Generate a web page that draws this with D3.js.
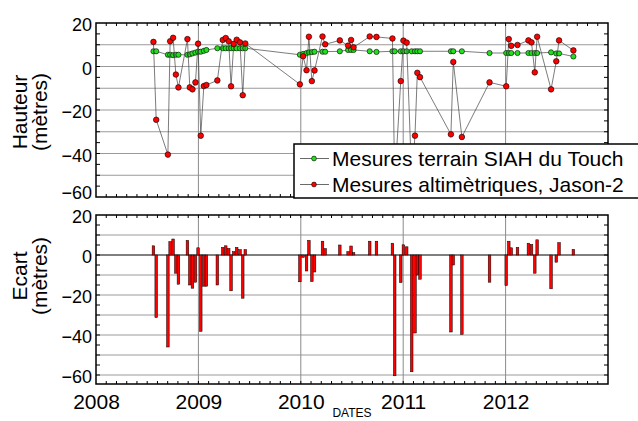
<!DOCTYPE html>
<html><head><meta charset="utf-8">
<script src="https://cdn.jsdelivr.net/npm/d3@7"></script>
<style>
html,body{margin:0;padding:0;background:#fff;}
svg{display:block;font-family:"Liberation Sans",Arial,sans-serif;}
</style></head>
<body><svg id="c" width="638" height="421"></svg>
<script>
// ---- data ----
const dates = [2008.561, 2008.588, 2008.702, 2008.724, 2008.753, 2008.780, 2008.805, 2008.893, 2008.916, 2008.942,
  2008.971, 2008.997, 2009.023, 2009.053, 2009.078, 2009.185, 2009.238, 2009.267, 2009.296, 2009.319,
  2009.345, 2009.374, 2009.406, 2009.433, 2009.458, 2009.991, 2010.023, 2010.056, 2010.079, 2010.108,
  2010.134, 2010.212, 2010.238, 2010.381, 2010.462, 2010.491, 2010.515, 2010.673, 2010.739, 2010.895,
  2010.917, 2010.976, 2011.002, 2011.034, 2011.083, 2011.115, 2011.138, 2011.164, 2011.466, 2011.489,
  2011.573, 2011.843, 2012.006, 2012.031, 2012.055, 2012.116, 2012.223, 2012.253, 2012.285, 2012.308,
  2012.444, 2012.495, 2012.522, 2012.662];
const terrain = [7.0, 7.0, 5.4, 5.4, 5.2, 5.4, 5.4, 5.4, 5.6, 6.0,
  6.4, 6.8, 6.8, 7.2, 7.6, 8.4, 8.4, 8.4, 8.4, 8.4,
  8.4, 8.4, 8.4, 8.4, 8.4, 5.4, 5.8, 6.2, 6.5, 6.6,
  6.8, 6.8, 6.8, 7.0, 7.6, 7.6, 7.6, 7.0, 6.7, 7.0,
  7.0, 7.0, 7.0, 7.0, 7.0, 7.0, 7.0, 7.0, 7.0, 7.0,
  7.0, 6.2, 6.2, 6.2, 6.2, 6.2, 6.2, 6.2, 6.2, 6.2,
  6.5, 6.0, 6.0, 4.6];
const altim = [11.3, -24.5, -40.5, 11.6, 13.2, -3.7, -9.6, 12.6, -9.6, -10.5,
  -7.3, 10.5, -31.8, -9.0, -8.5, -6.4, 12.2, 13.1, 11.6, -9.1,
  10.4, 12.3, 11.1, -13.2, 10.6, -8.2, 4.7, -1.7, 13.7, -6.7,
  -1.8, 13.8, 10.2, 12.0, 9.6, 12.2, 8.8, 13.8, 13.6, 12.9,
  -53.5, -6.7, 11.9, 11.0, -51.5, -31.8, -2.9, -4.9, -31.2, 2.1,
  -32.4, -7.3, -9.1, 12.6, 9.5, 9.9, 12.0, 11.1, -2.7, 13.7,
  -10.5, 2.4, 12.0, 7.4];
const ecart = [4.6, -31.3, -46, 6.7, 8.0, -9.1, -14.6, 7.3, -15, -16.6,
  -13.6, 3.6, -38.2, -15.6, -15.6, -15, 3.8, 4.6, 3.3, -17.9,
  1.7, 3.8, 2.7, -21.6, 2.7, -13.4, -1.2, -8, 7.3, -13.3,
  -8.5, 6.9, 3.2, 5, 1.7, 4.5, 1.2, 6.9, 6.9, 5.9,
  -60.4, -13.8, 5.1, 4.1, -58.4, -39, -10, -12.1, -38.5, -5,
  -39.7, -13.6, -15.3, 6.9, 3.6, 3.8, 5.9, 5.3, -9.1, 7.6,
  -16.9, -3.6, 6.2, 2.8];
const yearTicks = [2008, 2009, 2010, 2011, 2012];
const yTickLabels = [20, 0, -20, -40, -60];
const seriesNames = ["Mesures terrain SIAH du Touch", "Mesures altimètriques, Jason-2"];
const yTitles = [["Hauteur", "(mètres)"], ["Ecart", "(mètres)"]];
const xTitle = "DATES";

// ---- layout ----
const svg = d3.select("#c");
const L = 96, R = 608;
const x = d3.scaleLinear().domain([2008, 2013]).range([L, R]);
const yTop = d3.scaleLinear().domain([-60, 20]).range([197, 23]);
const yBot = d3.scaleLinear().domain([-64.5, 20]).range([384, 215]);
const GREEN = "#22e01e", RED = "#ff0000";

function panelFrame(y, gridVals) {
  const [y0, y1] = y.range(); // bottom, top
  const g = svg.append("g");
  g.selectAll(".hg").data(gridVals).join("line")
    .attr("x1", L).attr("x2", R).attr("y1", d => y(d)).attr("y2", d => y(d))
    .attr("stroke", "#9a9a9a").attr("stroke-width", 1);
  g.selectAll(".vg").data(yearTicks.slice(1)).join("line")
    .attr("x1", d => x(d)).attr("x2", d => x(d)).attr("y1", y1).attr("y2", y0)
    .attr("stroke", "#8a8a8a").attr("stroke-width", 1);
  return g;
}
function panelTicks(y, minorVals) {
  const [y0, y1] = y.range();
  const g = svg.append("g").attr("stroke", "#000").attr("stroke-width", 1);
  const xm = d3.range(0, 50).map(i => 2008 + i * 0.1).filter(d => d > 2008.05);
  g.selectAll(".tt").data(xm).join("line")
    .attr("x1", d => x(d)).attr("x2", d => x(d)).attr("y1", y1).attr("y2", y1 + 3);
  g.selectAll(".tb").data(xm).join("line")
    .attr("x1", d => x(d)).attr("x2", d => x(d)).attr("y1", y0).attr("y2", y0 - 3);
  g.selectAll(".tl").data(minorVals).join("line")
    .attr("x1", L).attr("x2", L + 4).attr("y1", d => y(d)).attr("y2", d => y(d));
  g.selectAll(".tr").data(minorVals).join("line")
    .attr("x1", R).attr("x2", R - 4).attr("y1", d => y(d)).attr("y2", d => y(d));
  svg.append("rect").attr("x", L).attr("y", y1).attr("width", R - L).attr("height", y0 - y1)
    .attr("fill", "none").attr("stroke", "#000").attr("stroke-width", 1.5);
}
function yLabels(y, adjust) {
  const ax = svg.append("g").attr("transform", `translate(${L},0)`)
    .call(d3.axisLeft(y).tickValues(yTickLabels).tickSize(0).tickPadding(4));
  ax.select(".domain").remove();
  ax.selectAll("text").attr("font-size", 18).attr("fill", "#000")
    .attr("font-family", "Liberation Sans, Arial, sans-serif")
    .attr("dy", d => (adjust[d] !== undefined ? adjust[d] : 0.42) + "em");
}

const grid10 = d3.range(-50, 20, 10);
const minor5Top = d3.range(-55, 20, 5);
const minor5Bot = d3.range(-60, 20, 5);
const idx = d3.range(dates.length);

// ---- top panel ----
panelFrame(yTop, grid10);
const gTop = svg.append("g");
gTop.append("path").datum(idx)
  .attr("d", d3.line().x(i => x(dates[i])).y(i => yTop(terrain[i])))
  .attr("fill", "none").attr("stroke", "#444").attr("stroke-width", 0.7);
gTop.selectAll(".pg").data(idx).join("circle")
  .attr("cx", i => x(dates[i])).attr("cy", i => yTop(terrain[i])).attr("r", 2.6)
  .attr("fill", GREEN).attr("stroke", "#000").attr("stroke-width", 0.6);
gTop.append("path").datum(idx)
  .attr("d", d3.line().x(i => x(dates[i])).y(i => yTop(altim[i])))
  .attr("fill", "none").attr("stroke", "#444").attr("stroke-width", 0.7);
gTop.selectAll(".pr").data(idx).join("circle")
  .attr("cx", i => x(dates[i])).attr("cy", i => yTop(altim[i])).attr("r", 2.8)
  .attr("fill", RED).attr("stroke", "#000").attr("stroke-width", 0.6);
panelTicks(yTop, minor5Top);
yLabels(yTop, {"-60": 0.1});

// ---- bottom panel ----
panelFrame(yBot, d3.range(-60, 20, 10).filter(d => d !== 0));
svg.append("line").attr("x1", L).attr("x2", R).attr("y1", yBot(0)).attr("y2", yBot(0))
  .attr("stroke", "#000").attr("stroke-width", 1);
const bw = 2.6;
svg.append("g").selectAll("rect").data(idx).join("rect")
  .attr("x", i => x(dates[i]) - bw / 2)
  .attr("y", i => Math.min(yBot(0), yBot(ecart[i])))
  .attr("width", bw)
  .attr("height", i => Math.abs(yBot(ecart[i]) - yBot(0)))
  .attr("fill", RED).attr("stroke", "#000").attr("stroke-width", 0.5);
panelTicks(yBot, minor5Bot);
yLabels(yBot, {});

// ---- x axis labels ----
const xa = svg.append("g").attr("transform", `translate(0,${yBot.range()[0]})`)
  .call(d3.axisBottom(x).tickValues(yearTicks).tickFormat(d3.format("d")).tickSize(0).tickPadding(10));
xa.select(".domain").remove();
xa.selectAll("text").attr("font-size", 21).attr("fill", "#000")
  .attr("font-family", "Liberation Sans, Arial, sans-serif");
svg.append("text").attr("x", (L + R) / 2).attr("y", 417).attr("text-anchor", "middle")
  .attr("font-size", 12).text(xTitle);

// ---- y titles ----
[[yTitles[0], 112], [yTitles[1], 276]].forEach(([lines, cy]) => {
  const t = svg.append("text").attr("transform", `translate(27,${cy}) rotate(-90)`)
    .attr("text-anchor", "middle").attr("font-size", 21);
  t.append("tspan").attr("x", 0).attr("y", 0).text(lines[0]);
  t.append("tspan").attr("x", 0).attr("y", 20).text(lines[1]);
});

// ---- legend ----
const lg = svg.append("g");
lg.append("rect").attr("x", 294).attr("y", 144).attr("width", 360).attr("height", 54)
  .attr("fill", "#fff").attr("stroke", "#000").attr("stroke-width", 1.5);
const legendRows = [{name: seriesNames[0], color: GREEN, y: 158.5}, {name: seriesNames[1], color: RED, y: 184.5}];
const rows = lg.selectAll(".row").data(legendRows).join("g")
  .attr("transform", d => `translate(0,${d.y})`);
rows.append("line").attr("x1", 300).attr("x2", 329).attr("y1", 0).attr("y2", 0)
  .attr("stroke", "#444").attr("stroke-width", 0.8);
rows.append("circle").attr("cx", 314).attr("cy", 0).attr("r", 2.4)
  .attr("fill", d => d.color).attr("stroke", "#000").attr("stroke-width", 0.6);
rows.append("text").attr("x", 332).attr("y", 7).attr("font-size", 21).text(d => d.name);
</script>
</body></html>
